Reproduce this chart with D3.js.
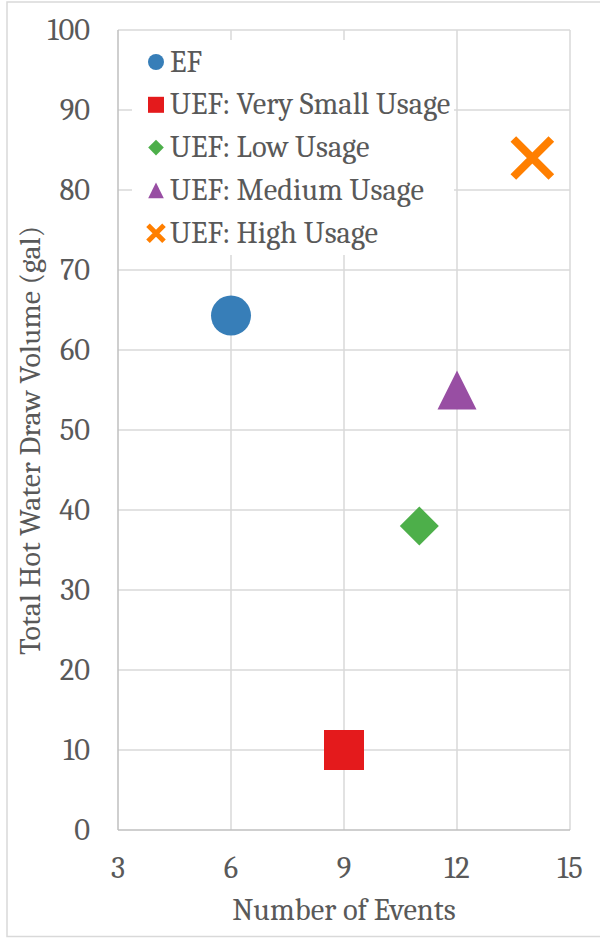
<!DOCTYPE html>
<html>
<head>
<meta charset="utf-8">
<script src="https://cdn.jsdelivr.net/npm/d3@7"></script>
<style>
  body { margin: 0; background: #fff; }
  text { font-family: Cambria, "DejaVu Serif", serif; fill: #595959; }
</style>
</head>
<body>
<script>
var SERIES = ["EF", "UEF: Very Small Usage", "UEF: Low Usage", "UEF: Medium Usage", "UEF: High Usage"];
var EVENTS = [6, 9, 11, 12, 14];
var VOLUME = [64.3, 10, 38, 55, 84];
var COLORS = ["#377eb8", "#e41a1c", "#4daf4a", "#984ea3", "#ff7f00"];
var SHAPES = ["circle", "square", "diamond", "triangle", "cross"];
var X_TICKS = [3, 6, 9, 12, 15];
var Y_TICKS = [0, 10, 20, 30, 40, 50, 60, 70, 80, 90, 100];

var W = 600, H = 938;
var margin = {left: 118, right: 30, top: 30, bottom: 108};

var svg = d3.select("body").append("svg").attr("width", W).attr("height", H);

// outer chart border
svg.append("rect")
  .attr("x", 7).attr("y", 2)
  .attr("width", W + 10).attr("height", H - 3.5)
  .attr("fill", "#fff").attr("stroke", "#d9d9d9").attr("stroke-width", 1.5);

var x = d3.scaleLinear().domain([3, 15]).range([margin.left, W - margin.right]);
var y = d3.scaleLinear().domain([0, 100]).range([H - margin.bottom, margin.top]);

// grid
var grid = svg.append("g").attr("stroke", "#d9d9d9").attr("stroke-width", 1.5);
grid.selectAll(".gx").data(X_TICKS.slice(1)).enter().append("line")
  .attr("x1", d => x(d)).attr("x2", d => x(d))
  .attr("y1", y(0)).attr("y2", y(100));
grid.selectAll(".gy").data(Y_TICKS.slice(1)).enter().append("line")
  .attr("x1", x(3)).attr("x2", x(15))
  .attr("y1", d => y(d)).attr("y2", d => y(d));

// axis lines
svg.append("line").attr("x1", x(3)).attr("x2", x(3)).attr("y1", y(0)).attr("y2", y(100))
  .attr("stroke", "#bfbfbf").attr("stroke-width", 1.5);
svg.append("line").attr("x1", x(3)).attr("x2", x(15)).attr("y1", y(0)).attr("y2", y(0))
  .attr("stroke", "#bfbfbf").attr("stroke-width", 1.5);

// tick labels
svg.append("g").selectAll("text").data(Y_TICKS).enter().append("text")
  .attr("x", 90).attr("y", d => y(d))
  .attr("text-anchor", "end").attr("dominant-baseline", "central")
  .style("font-size", "30.5px")
  .text(d => d);
svg.append("g").selectAll("text").data(X_TICKS).enter().append("text")
  .attr("x", d => x(d)).attr("y", y(0) + 38)
  .attr("text-anchor", "middle").attr("dominant-baseline", "central")
  .style("font-size", "30.5px")
  .text(d => d);

// axis titles
svg.append("text")
  .attr("x", x(9)).attr("y", 910)
  .attr("text-anchor", "middle").attr("dominant-baseline", "central")
  .style("font-size", "30.5px")
  .text("Number of Events");
svg.append("text")
  .attr("transform", "translate(30," + y(48.7) + ") rotate(-90)")
  .attr("text-anchor", "middle").attr("dominant-baseline", "central")
  .style("font-size", "30px")
  .text("Total Hot Water Draw Volume (gal)");

var drawMarker = function(g, i, scale, legendMode){
  var shape = SHAPES[i];
  var r = 19.5 * scale;
  if (shape === "cross") {
    var h = (legendMode ? 8 : 19) * scale;
    g.append("path")
      .attr("d", `M${-h},${-h}L${h},${h}M${-h},${h}L${h},${-h}`)
      .attr("stroke", COLORS[i]).attr("stroke-width", legendMode ? 5 : 8).attr("fill", "none");
  } else if (shape === "diamond") {
    g.append("path").attr("d", `M0,${-r}L${r},0L0,${r}L${-r},0Z`).attr("fill", COLORS[i]);
  } else if (shape === "triangle") {
    g.append("path").attr("d", `M0,${-r}L${r},${r}L${-r},${r}Z`).attr("fill", COLORS[i]);
  } else if (shape === "square") {
    var s = 20 * scale;
    g.append("rect").attr("x", -s).attr("y", -s).attr("width", 2 * s).attr("height", 2 * s).attr("fill", COLORS[i]);
  } else {
    g.append("circle").attr("r", 20 * scale).attr("fill", COLORS[i]);
  }
};

// legend box (white, hides grid)
var legend = svg.append("g");
legend.append("rect")
  .attr("x", 132).attr("y", 40).attr("width", 322).attr("height", 215)
  .attr("fill", "#fff");
SERIES.forEach(function(name, i){
  var ly = 62 + i * 42.8;
  var g = legend.append("g").attr("transform", "translate(156," + ly + ")");
  drawMarker(g, i, i === 4 ? 1 : 0.4, true);
  legend.append("text")
    .attr("x", 170).attr("y", ly)
    .attr("dominant-baseline", "central")
    .style("font-size", "30.5px")
    .text(name);
});

// points
SERIES.forEach(function(name, i){
  var g = svg.append("g").attr("transform", "translate(" + x(EVENTS[i]) + "," + y(VOLUME[i]) + ")");
  drawMarker(g, i, 1, false);
});
</script>
</body>
</html>
